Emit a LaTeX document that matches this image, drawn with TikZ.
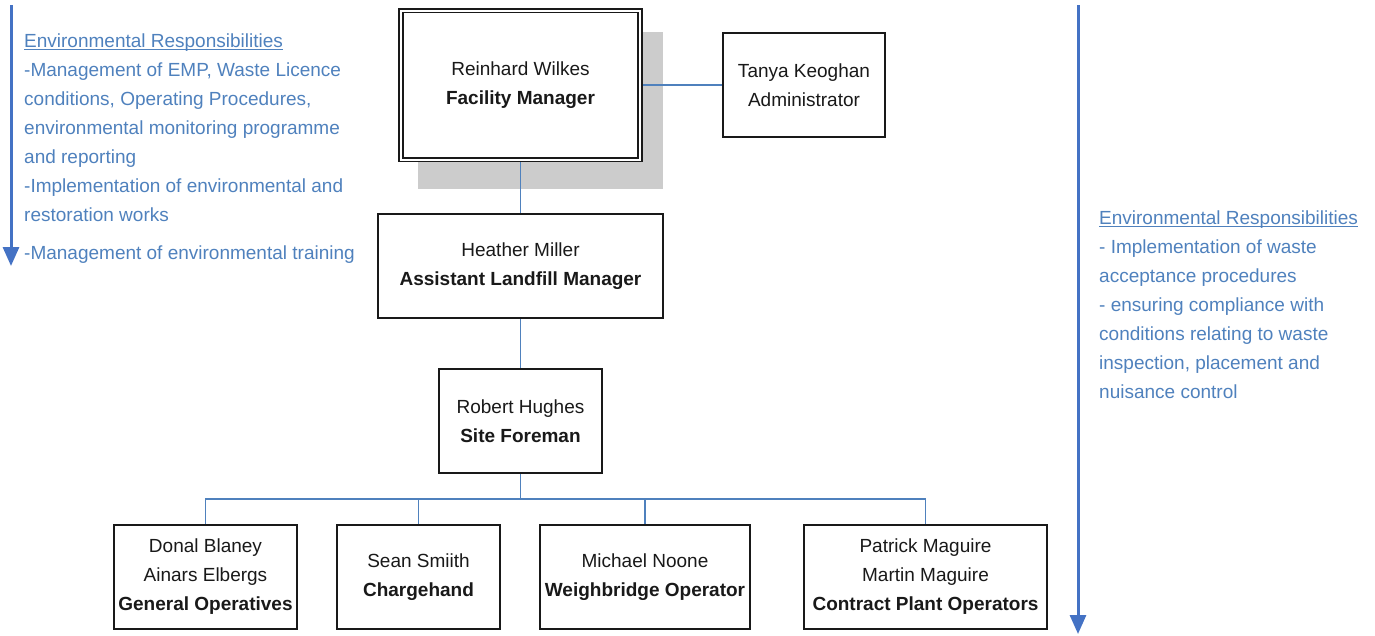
\documentclass[tikz,border=0pt]{standalone}
\usepackage{fontspec}
\setmainfont{Liberation Sans}
\usetikzlibrary{arrows.meta,backgrounds}
\definecolor{txtblue}{RGB}{79,129,189}
\definecolor{lnblue}{RGB}{79,129,189}
\definecolor{arrblue}{RGB}{68,114,196}
\definecolor{shadowgray}{RGB}{204,204,204}
\definecolor{boxline}{RGB}{25,25,25}
\newcommand\respul[1]{\underline{\raisebox{0pt}[\height][0pt]{#1}}}
\begin{document}
\begin{tikzpicture}[x=1pt,y=-1pt,
  box/.style={draw=boxline, line width=1.8pt, fill=white, align=center, inner sep=0pt, outer sep=0pt,
    font=\fontsize{19}{29}\selectfont, text=boxline},
  conn/.style={draw=lnblue, line width=1.6pt},
  resparrow/.style={draw=arrblue, line width=3pt, -{Triangle[width=16pt,length=19pt]}},
  resp/.style={align=left, anchor=north west, inner sep=0pt, text=txtblue, font=\fontsize{19}{29}\selectfont}
]
\useasboundingbox (0,0) rectangle (1375,635);

% responsibility arrows
\coordinate (la0) at (11,5);
\coordinate (la1) at (11,266);
\coordinate (ra0) at (1078,5);
\coordinate (ra1) at (1078,634);
\draw[resparrow] (la0) -- (la1);
\draw[resparrow] (ra0) -- (ra1);

% responsibility texts
\node[resp] (lresp) at (24,34) {\respul{Environmental Responsibilities}\\-Management of EMP, Waste Licence\\conditions, Operating Procedures,\\environmental monitoring programme\\and reporting\\-Implementation of environmental and\\restoration works\\[9pt]-Management of environmental training};
\node[resp] (rresp) at (1099,211) {\respul{Environmental Responsibilities}\\- Implementation of waste\\acceptance procedures\\- ensuring compliance with\\conditions relating to waste\\inspection, placement and\\nuisance control};

% boxes
\node[box, double, double distance=2pt, line width=1.8pt, minimum width=239.5pt, minimum height=149pt] (fm) at (520.5,85) {Reinhard Wilkes\\\textbf{Facility Manager}};
\node[box, minimum width=162pt, minimum height=104pt] (tanya) at (804,85) {Tanya Keoghan\\Administrator};
\node[box, minimum width=285pt, minimum height=104pt] (heather) at (520.5,266) {Heather Miller\\\textbf{Assistant Landfill Manager}};
\node[box, minimum width=163pt, minimum height=104pt] (robert) at (520.5,421) {Robert Hughes\\\textbf{Site Foreman}};
\node[box, minimum width=183pt, minimum height=104pt] (b1) at (205.5,577) {Donal Blaney\\Ainars Elbergs\\\textbf{General Operatives}};
\node[box, minimum width=163pt, minimum height=104pt] (b2) at (418.5,577) {Sean Smiith\\\textbf{Chargehand}};
\node[box, minimum width=210pt, minimum height=104pt] (b3) at (645,577) {Michael Noone\\\textbf{Weighbridge Operator}};
\node[box, minimum width=243pt, minimum height=104pt] (b4) at (925.5,577) {Patrick Maguire\\Martin Maguire\\\textbf{Contract Plant Operators}};

\coordinate (bus) at (520.5,499);

\begin{scope}[on background layer]
  \fill[shadowgray] (418,32) rectangle (663,189);
  \draw[conn] (fm.east) -- (fm.east -| tanya.west);
  \draw[conn] (fm.south) -- (heather.north);
  \draw[conn] (heather.south) -- (robert.north);
  \draw[conn] (robert.south) -- (bus);
  \draw[conn] (b1.north) |- (bus -| b4.north) -- (b4.north);
  \draw[conn] (b2.north) -- (b2.north |- bus);
  \draw[conn] (b3.north) -- (b3.north |- bus);
\end{scope}
\end{tikzpicture}
\end{document}
